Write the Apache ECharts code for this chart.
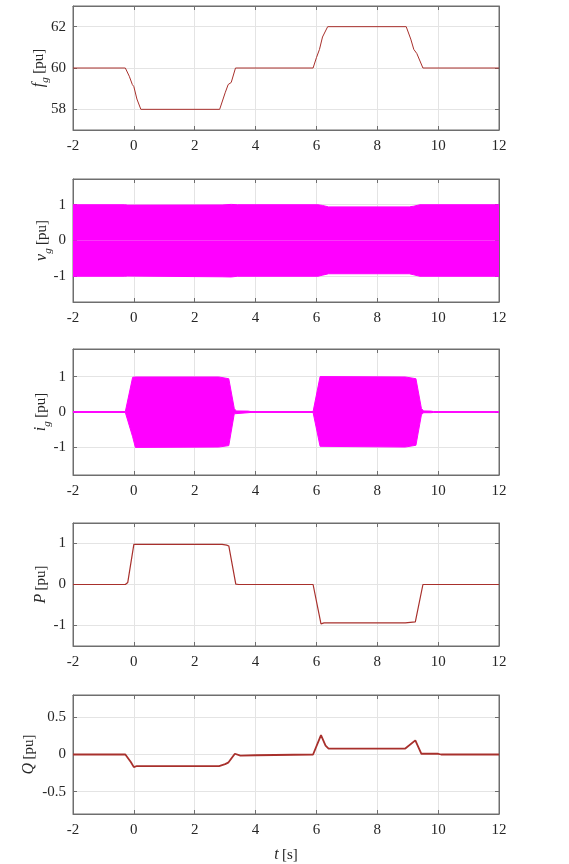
<!DOCTYPE html>
<html>
<head>
<meta charset="utf-8">
<script src="https://cdn.jsdelivr.net/npm/echarts@6/dist/echarts.min.js"></script>
<style>
html,body{margin:0;padding:0;background:#fff;}
#chart{width:569px;height:864px;}
</style>
</head>
<body>
<div id="chart"></div>
<script>
// ---------- data ----------
const xTicks = [-2, 0, 2, 4, 6, 8, 10, 12];

// grid frequency f_g
const tF = [-2, -0.28, -0.15, -0.05, 0.0, 0.1, 0.23, 2.82, 3.0, 3.1, 3.2, 3.34, 5.89, 6.0, 6.1, 6.2, 6.37, 8.95, 9.1, 9.2, 9.3, 9.5, 12];
const fG = [60, 60, 59.6, 59.2, 59.1, 58.5, 58, 58, 58.8, 59.2, 59.3, 60, 60, 60.5, 60.9, 61.5, 62, 62, 61.4, 60.9, 60.7, 60, 60];
const fTicks = [58, 60, 62];

// grid voltage v_g envelope
const tV = [-2, -0.3, -0.2, 2.9, 3.2, 3.4, 6.05, 6.2, 6.4, 9.05, 9.2, 9.4, 12];
const vUpper = [1, 1, 0.99, 0.995, 1.01, 1.0, 1.0, 0.98, 0.94, 0.94, 0.96, 1.0, 1.0];
const vLower = [-1, -1, -0.995, -1.015, -1.02, -1.0, -1.0, -0.97, -0.93, -0.93, -0.96, -1.0, -1.0];
const vTicks = [-1, 0, 1];

// grid current i_g envelope
const tI = [-2, -0.28, -0.04, 0.05, 2.79, 3.12, 3.3, 3.36, 3.75, 3.85, 5.89, 6.12, 6.18, 8.92, 9.27, 9.45, 9.52, 9.75, 9.85, 12];
const iUpper = [0.012, 0.012, 0.98, 0.99, 0.99, 0.94, 0.1, 0.03, 0.025, 0.012, 0.012, 1.0, 1.01, 0.99, 0.94, 0.1, 0.03, 0.025, 0.012, 0.012];
const iLower = [-0.012, -0.012, -0.7, -1.0, -0.99, -0.95, -0.05, -0.02, -0.02, -0.012, -0.012, -0.97, -1.0, -0.99, -0.94, -0.08, -0.02, -0.02, -0.012, -0.012];
const iTicks = [-1, 0, 1];

// active power P
const tP = [-2, -0.28, -0.2, 0.0, 0.05, 0.15, 2.9, 3.05, 3.12, 3.35, 3.45, 5.89, 6.15, 6.25, 8.92, 9.25, 9.5, 12];
const pVal = [0, 0, 0.05, 0.98, 1.01, 0.98, 0.98, 0.96, 0.94, 0.01, 0, 0, -0.96, -0.935, -0.935, -0.91, 0, 0];
const pTicks = [-1, 0, 1];

// reactive power Q
const tQ = [-2, -0.28, -0.1, 0.0, 0.05, 0.1, 2.8, 3.0, 3.1, 3.32, 3.5, 4.0, 5.89, 6.15, 6.3, 6.4, 8.92, 9.25, 9.45, 10.0, 10.1, 12];
const qVal = [0, 0, -0.1, -0.17, -0.15, -0.155, -0.155, -0.13, -0.11, 0.01, -0.015, -0.01, 0, 0.26, 0.12, 0.08, 0.08, 0.19, 0.01, 0.01, 0, 0];
const qTicks = [-0.5, 0, 0.5];

// ---------- layout / style ----------
const FONT = 'Liberation Serif';
const TXT = '#262626';
const AX = '#6e6e6e';
const GRIDC = '#e4e4e4';
const LEFT = 73, RIGHT = 70;
const panels = [
  {top: 6,   height: 124, min: 57,    max: 63,   ticks: fTicks, name: ['f', 'g'], gap: 22},
  {top: 179, height: 123, min: -1.72, max: 1.72, ticks: vTicks, name: ['v', 'g'], gap: 19},
  {top: 349, height: 126, min: -1.78, max: 1.78, ticks: iTicks, name: ['i', 'g'], gap: 20},
  {top: 523, height: 123, min: -1.5,  max: 1.5,  ticks: pTicks, name: ['P', ''],  gap: 20},
  {top: 695, height: 124, min: -0.8,  max: 0.8,  ticks: qTicks, name: ['Q', ''],  gap: 32}
];

const zip = (a, b) => a.map((x, k) => [x, b[k]]);

const grid = [], xAxis = [], yAxis = [], series = [];
const rich = {
  it: {fontFamily: FONT, fontStyle: 'italic', fontSize: 16, color: TXT, lineHeight: 24, verticalAlign: 'middle'},
  sub: {fontFamily: FONT, fontStyle: 'italic', fontSize: 11, color: TXT, lineHeight: 12, verticalAlign: 'bottom'},
  rm: {fontFamily: FONT, fontSize: 15, color: TXT, lineHeight: 24, verticalAlign: 'middle'}
};

panels.forEach((p, gi) => {
  grid.push({left: LEFT, right: RIGHT, top: p.top, height: p.height, show: true, borderColor: AX, borderWidth: 1, backgroundColor: '#fff'});
  const xb = {type: 'value', gridIndex: gi, min: -2, max: 12, interval: 2};
  const last = gi === panels.length - 1;
  xAxis.push(Object.assign({}, xb, {
    position: 'bottom',
    axisLine: {show: true, onZero: false, lineStyle: {color: AX, width: 1}},
    axisTick: {show: true, inside: true, length: 4, lineStyle: {color: AX}},
    axisLabel: {color: TXT, fontFamily: FONT, fontSize: 15, margin: 9},
    splitLine: {show: true, lineStyle: {color: GRIDC, width: 1}},
    name: last ? '{it|t} {rm|[s]}' : '',
    nameLocation: 'middle',
    nameGap: 29,
    nameMoveOverlap: false,
    nameTextStyle: {rich: rich}
  }));
  xAxis.push(Object.assign({}, xb, {
    position: 'top',
    axisLine: {show: true, onZero: false, lineStyle: {color: AX, width: 1}},
    axisTick: {show: true, inside: true, length: 4, lineStyle: {color: AX}},
    axisLabel: {show: false},
    splitLine: {show: false}
  }));
  const yb = {type: 'value', gridIndex: gi, min: p.min, max: p.max};
  const nm = p.name[1] ? '{it|' + p.name[0] + '}{sub|' + p.name[1] + '} {rm|[pu]}' : '{it|' + p.name[0] + '} {rm|[pu]}';
  yAxis.push(Object.assign({}, yb, {
    position: 'left',
    axisLine: {show: true, onZero: false, lineStyle: {color: AX, width: 1}},
    axisTick: {show: true, inside: true, length: 4, lineStyle: {color: AX}, customValues: p.ticks},
    axisLabel: {color: TXT, fontFamily: FONT, fontSize: 15, margin: 7, customValues: p.ticks},
    splitLine: {show: true, lineStyle: {color: GRIDC, width: 1}},
    name: nm,
    nameLocation: 'middle',
    nameRotate: 90,
    nameGap: p.gap,
    nameMoveOverlap: false,
    nameTextStyle: {rich: rich}
  }));
  yAxis.push(Object.assign({}, yb, {
    position: 'right',
    axisLine: {show: true, onZero: false, lineStyle: {color: AX, width: 1}},
    axisTick: {show: true, inside: true, length: 4, lineStyle: {color: AX}, customValues: p.ticks},
    axisLabel: {show: false},
    splitLine: {show: false}
  }));
});

const MAG = '#ff00ff';
const RED = '#a8302c';
function lineSeries(gi, data, color, width) {
  return {type: 'line', xAxisIndex: gi * 2, yAxisIndex: gi * 2, data: data, showSymbol: false, silent: true,
    lineStyle: {color: color, width: width}, z: 3, animation: false};
}
function areaSeries(gi, data) {
  return {type: 'line', xAxisIndex: gi * 2, yAxisIndex: gi * 2, data: data, showSymbol: false, silent: true,
    lineStyle: {color: MAG, width: 1}, areaStyle: {color: MAG, opacity: 1, origin: 0}, z: 3, animation: false};
}

series.push(lineSeries(0, zip(tF, fG), RED, 1));
series.push(areaSeries(1, zip(tV, vUpper)));
series.push(areaSeries(1, zip(tV, vLower)));
series.push(areaSeries(2, zip(tI, iUpper)));
series.push(areaSeries(2, zip(tI, iLower)));
series.push(lineSeries(3, zip(tP, pVal), RED, 1.2));
series.push(lineSeries(4, zip(tQ, qVal), RED, 1.8));

const chart = echarts.init(document.getElementById('chart'), null, {renderer: 'canvas'});
chart.setOption({
  animation: false,
  backgroundColor: '#fff',
  grid: grid,
  xAxis: xAxis,
  yAxis: yAxis,
  series: series
});
</script>
</body>
</html>
